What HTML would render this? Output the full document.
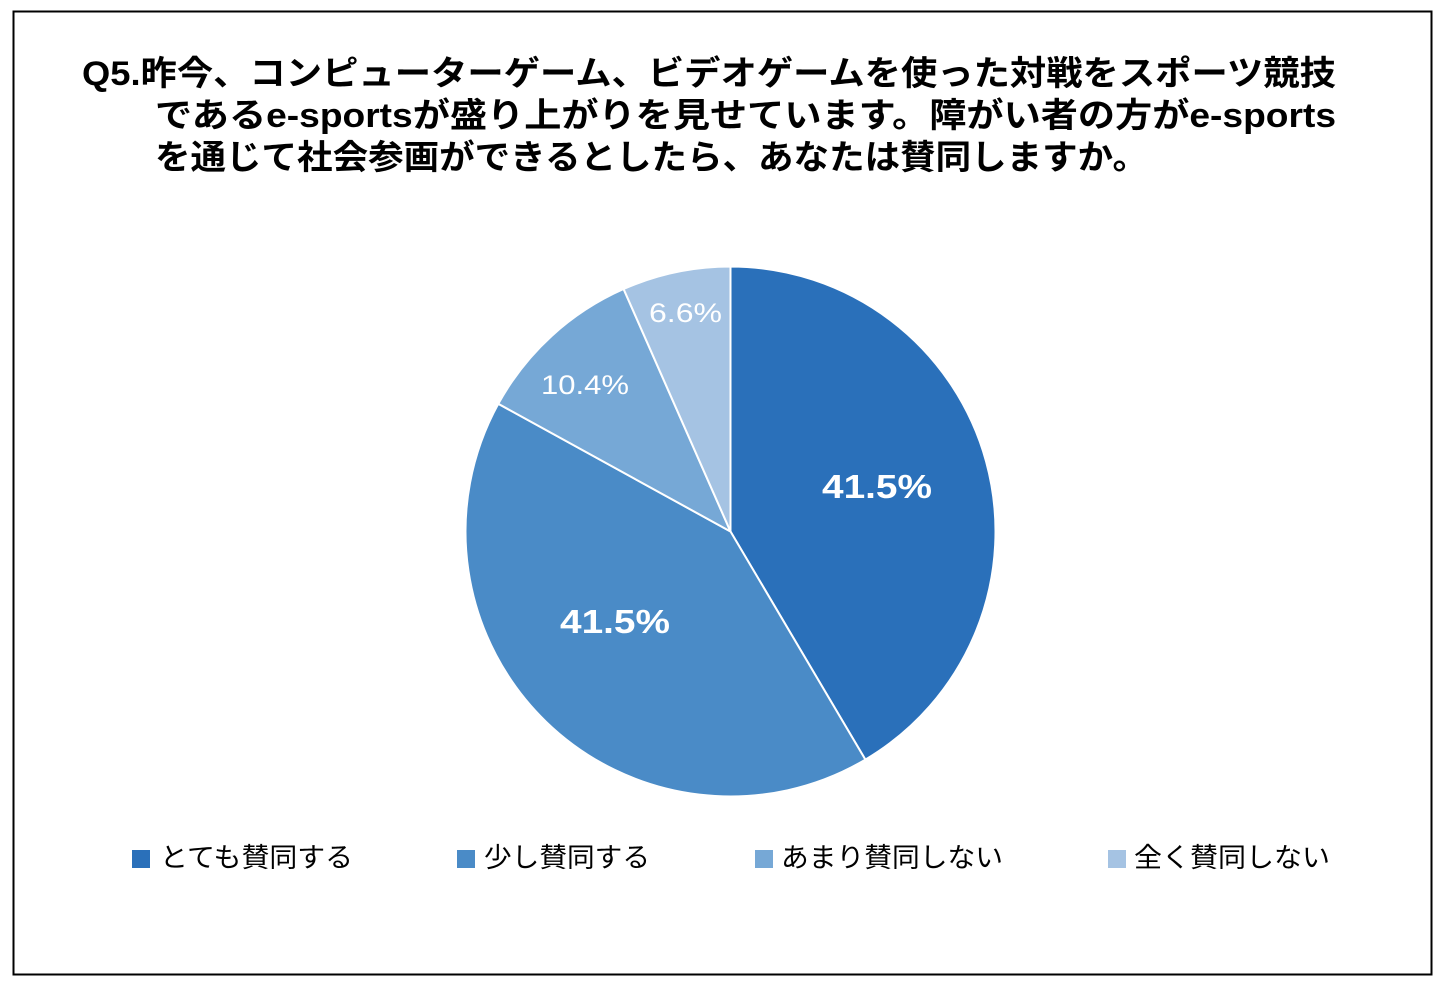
<!DOCTYPE html>
<html><head><meta charset="utf-8"><style>
html,body{margin:0;padding:0;background:#fff;}
svg{display:block;}
</style></head><body>
<svg width="1442" height="990" xmlns="http://www.w3.org/2000/svg" font-family="'Liberation Sans','Noto Sans CJK JP',sans-serif">
<rect x="0" y="0" width="1442" height="990" fill="#fff"/>
<rect x="13.5" y="11.5" width="1418" height="963" fill="none" stroke="#000" stroke-width="2"/>
<g font-weight="bold" font-size="34" fill="#000">
<text x="82" y="85" textLength="1254" lengthAdjust="spacingAndGlyphs">Q5.昨今、コンピューターゲーム、ビデオゲームを使った対戦をスポーツ競技</text>
<text x="155" y="127" textLength="1181" lengthAdjust="spacingAndGlyphs">であるe-sportsが盛り上がりを見せています。障がい者の方がe-sports</text>
<text x="155" y="169" textLength="993" lengthAdjust="spacingAndGlyphs">を通じて社会参画ができるとしたら、あなたは賛同しますか。</text>
</g>
<g transform="translate(730.5,531.5)" stroke="#fff" stroke-width="2">
<path d="M0,0 L0,-265 A265,265 0 0,1 134.9,228.1 Z" fill="#2a70ba"/>
<path d="M0,0 L134.9,228.1 A265,265 0 0,1 -232.2,-127.7 Z" fill="#4a8bc7"/>
<path d="M0,0 L-232.2,-127.7 A265,265 0 0,1 -106.9,-242.5 Z" fill="#76a8d6"/>
<path d="M0,0 L-106.9,-242.5 A265,265 0 0,1 0,-265 Z" fill="#a5c3e3"/>
</g>
<g fill="#fff">
<text x="822" y="498" font-size="33" font-weight="bold" textLength="110" lengthAdjust="spacingAndGlyphs">41.5%</text>
<text x="560" y="633" font-size="33" font-weight="bold" textLength="110" lengthAdjust="spacingAndGlyphs">41.5%</text>
<text x="541" y="394" font-size="27" textLength="88" lengthAdjust="spacingAndGlyphs">10.4%</text>
<text x="649" y="322" font-size="27" textLength="73" lengthAdjust="spacingAndGlyphs">6.6%</text>
</g>
<g font-size="27" fill="#000">
<rect x="132" y="850" width="18" height="18" fill="#2a70ba"/>
<text x="160" y="867" textLength="193" lengthAdjust="spacingAndGlyphs">とても賛同する</text>
<rect x="457" y="850" width="18" height="18" fill="#4a8bc7"/>
<text x="484" y="867" textLength="166" lengthAdjust="spacingAndGlyphs">少し賛同する</text>
<rect x="755" y="850" width="18" height="18" fill="#76a8d6"/>
<text x="781" y="867" textLength="222" lengthAdjust="spacingAndGlyphs">あまり賛同しない</text>
<rect x="1108" y="850" width="18" height="18" fill="#a5c3e3"/>
<text x="1134" y="867" textLength="196" lengthAdjust="spacingAndGlyphs">全く賛同しない</text>
</g>
</svg>
</body></html>
